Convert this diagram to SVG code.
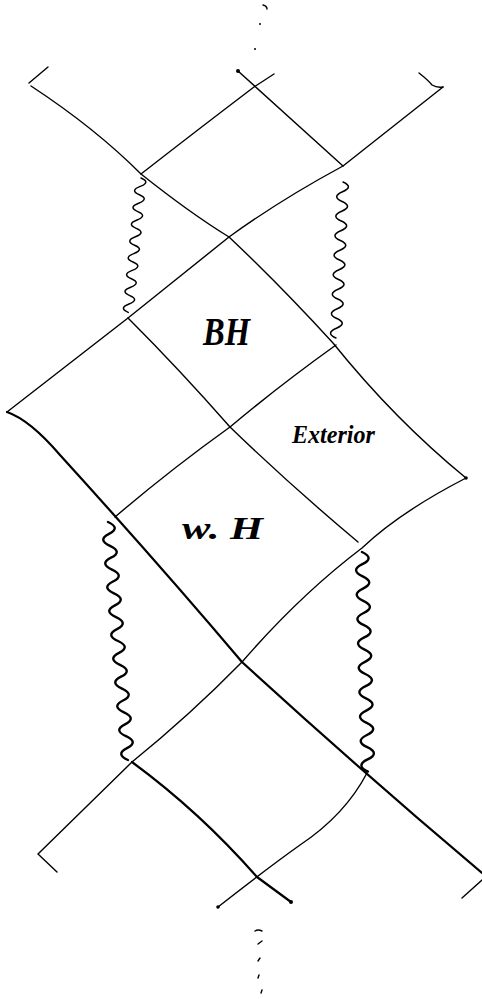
<svg xmlns="http://www.w3.org/2000/svg" width="482" height="999" viewBox="0 0 482 999">
<style>
.ln{fill:none;stroke:#000;stroke-width:1.4;stroke-linecap:round;stroke-linejoin:round}
.thk{stroke-width:2.2}
.wv{fill:none;stroke:#000;stroke-width:1.5;stroke-linecap:round}
.wvt{stroke-width:2.4}
.dot{fill:#000}
.lbl{font-family:"Liberation Serif","DejaVu Serif",serif;font-style:italic;fill:#000}
</style>
<rect width="482" height="999" fill="#fff"/>
<g id="connectors">
<path class="ln" d="M31 86 Q95 128 141 174 Q190 213 229 237 Q280 285 333 343 Q395 420 466 478"/>
<path class="ln" d="M443 87 L343 166 Q280 200 229 237 L128 318 L7 412"/>
<path class="ln" d="M238 71 L343 166"/>
<path class="ln" d="M141 174 Q200 128 254 87 L274 74"/>
<path class="ln" d="M29 83 L48 67"/>
<path class="ln" d="M419 73 Q428 80 432 85 Q437 88 443 87"/>
<path class="ln" d="M128 318 Q180 370 230 427 Q290 485 358 542"/>
<path class="ln" d="M336 345 Q280 385 230 427 Q170 470 115 517"/>
<path class="ln thk" d="M7 412 Q30 420 60 455 Q160 565 242 662 Q360 770 482 873"/>
<path class="ln" d="M466 478 Q400 512 362 548 Q300 595 242 662 Q190 715 132 762 L38 854 L57 872"/>
<path class="ln thk" d="M132 762 Q200 812 257 877 L291 902"/>
<path class="ln" d="M367 773 Q345 815 300 845 Q265 870 218 907"/>
<path class="ln" d="M482 880 L462 898"/>
<path class="wv" d="M141 178 q10 4.2 -0.8 8.4 t-0.8 8.4 t-0.8 8.4 t-0.8 8.4 t-0.8 8.4 t-0.8 8.4 t-0.8 8.4 t-0.8 8.4 t-0.8 8.4 t-0.8 8.4 t-0.8 8.4 t-0.8 8.4 t-0.8 8.4 t-0.8 8.4 t-0.8 8.4 t-0.8 8.4"/>
<path class="wv" d="M343 182 q11 4.9 -0.44 9.75 t-0.44 9.75 t-0.44 9.75 t-0.44 9.75 t-0.44 9.75 t-0.44 9.75 t-0.44 9.75 t-0.44 9.75 t-0.44 9.75 t-0.44 9.75 t-0.44 9.75 t-0.44 9.75 t-0.44 9.75 t-0.44 9.75 t-0.44 9.75 t-0.44 9.75"/>
<path class="wv wvt" d="M108 522 q13 6 1 11.9 t1 11.9 t1 11.9 t1 11.9 t1 11.9 t1 11.9 t1 11.9 t1 11.9 t1 11.9 t1 11.9 t1 11.9 t1 11.9 t1 11.9 t1 11.9 t1 11.9 t1 11.9 t1 11.9 t1 11.9 t1 11.9 t1 11.9"/>
<path class="wv wvt" d="M362 552 q13 6.1 0.33 12.2 t0.33 12.2 t0.33 12.2 t0.33 12.2 t0.33 12.2 t0.33 12.2 t0.33 12.2 t0.33 12.2 t0.33 12.2 t0.33 12.2 t0.33 12.2 t0.33 12.2 t0.33 12.2 t0.33 12.2 t0.33 12.2 t0.33 12.2 t0.33 12.2 t0.33 12.2"/>
<path class="ln" d="M263 5 Q267 6 267 9"/>
<circle class="dot" cx="260" cy="24" r="1"/>
<circle class="dot" cx="255" cy="49" r="1"/>
<circle class="dot" cx="238" cy="71" r="2"/>
<circle class="dot" cx="466" cy="478" r="1.8"/>
<circle class="dot" cx="291" cy="902" r="2"/>
<circle class="dot" cx="218" cy="907" r="1.8"/>
<path class="ln" d="M255 931 Q258 929 262 931"/>
<path class="ln" d="M258 944 L262 941"/>
<path class="ln" d="M258 961 L260 958"/>
<path class="ln" d="M258 978 L259 975"/>
<path class="ln" d="M261 993 L262 990"/>
</g>
<g id="BH"><text class="lbl" x="203" y="345" font-size="40" font-weight="bold" textLength="47" lengthAdjust="spacingAndGlyphs">BH</text></g>
<g id="Exterior"><text class="lbl" x="292" y="443" font-size="26" font-weight="bold" textLength="83" lengthAdjust="spacingAndGlyphs">Exterior</text></g>
<g id="WH"><text class="lbl" x="182" y="539" font-size="32" font-weight="bold" textLength="81" lengthAdjust="spacingAndGlyphs">w. H</text></g>
</svg>
